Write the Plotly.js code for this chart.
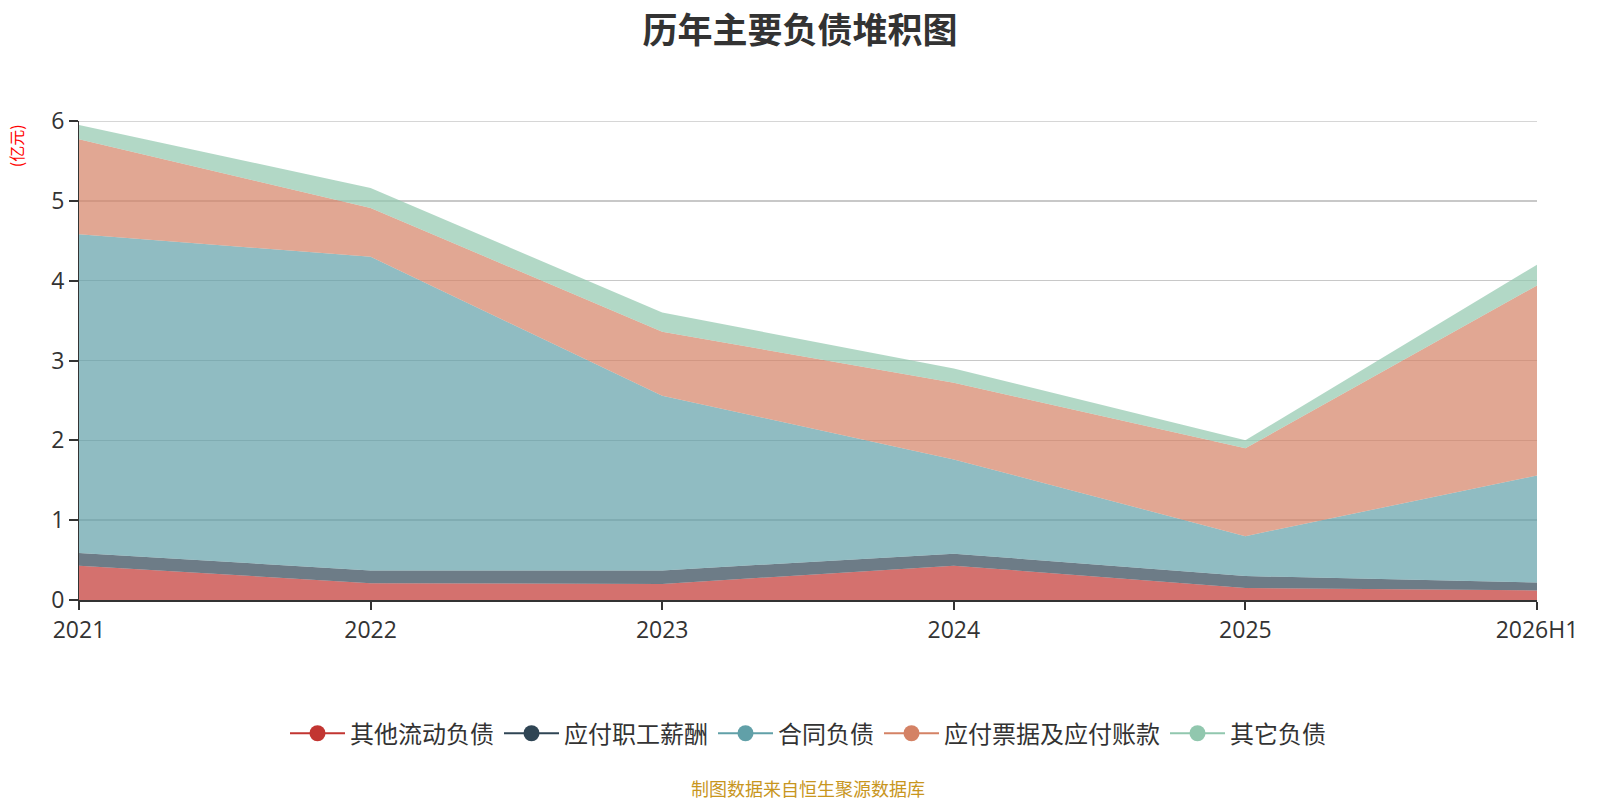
<!DOCTYPE html>
<html>
<head>
<meta charset="utf-8">
<script src="https://cdn.plot.ly/plotly-3.0.1.min.js"></script>
<style>html,body{margin:0;padding:0;background:#fff;}#chart{width:1600px;height:800px;}</style>
</head>
<body>
<div id="chart"></div>
<script>
const categories = ["2021", "2022", "2023", "2024", "2025", "2026H1"];
const seriesNames = ["其他流动负债", "应付职工薪酬", "合同负债", "应付票据及应付账款", "其它负债"];
const otherCurrent = [0.43, 0.21, 0.20, 0.43, 0.15, 0.12];
const payroll = [0.16, 0.16, 0.17, 0.15, 0.15, 0.10];
const contract = [3.99, 3.93, 2.19, 1.18, 0.50, 1.34];
const payables = [1.19, 0.61, 0.80, 0.96, 1.10, 2.38];
const otherLiab = [0.18, 0.25, 0.24, 0.18, 0.10, 0.26];
const yTicks = [0, 1, 2, 3, 4, 5, 6];

const colors = ["#c23531", "#2f4554", "#61a0a8", "#d48265", "#91c7ae"];
const fills = ["rgba(194,53,49,0.7)", "rgba(47,69,84,0.7)", "rgba(97,160,168,0.7)", "rgba(212,130,101,0.7)", "rgba(145,199,174,0.7)"];
const values = [otherCurrent, payroll, contract, payables, otherLiab];

const font = '"Open Sans", "Noto Sans CJK SC", sans-serif';
const cjk = '"Noto Sans CJK SC", "Noto Sans", sans-serif';
const traces = [];
values.forEach((v, i) => {
  traces.push({
    type: "scatter", x: categories, y: v, stackgroup: "one", mode: "lines",
    line: {width: 0, color: colors[i]}, fillcolor: fills[i], showlegend: false,
    hoverinfo: "skip", name: seriesNames[i]
  });
});
seriesNames.forEach((n, i) => {
  traces.push({
    type: "scatter", x: [null], y: [null], mode: "lines+markers", name: n,
    line: {width: 2, color: colors[i]}, marker: {size: 22, color: colors[i], symbol: "circle"},
    showlegend: true, hoverinfo: "skip"
  });
});

const yTop = yTicks[yTicks.length - 1];
const layout = {
  width: 1600, height: 800,
  margin: {l: 79, r: 63, t: 121, b: 200},
  paper_bgcolor: "#fff", plot_bgcolor: "#fff",
  font: {family: font, color: "#333"},
  title: {text: "<b>历年主要负债堆积图</b>", x: 0.5, xanchor: "center", y: 0.962, yanchor: "middle",
          font: {size: 35, color: "#333", family: cjk}},
  xaxis: {type: "category", range: [0, 5], showgrid: false, showline: true, linecolor: "#333", linewidth: 2,
          ticks: "outside", ticklen: 8, tickwidth: 2, tickcolor: "#333",
          tickfont: {size: 23, color: "#333", family: font}, zeroline: false, fixedrange: true},
  yaxis: {range: [0, yTop], tickvals: yTicks, showgrid: true, gridcolor: "#c8c8c8", gridwidth: 1.5,
          showline: true, linecolor: "#333", linewidth: 1, ticks: "outside", ticklen: 9, tickwidth: 2, tickcolor: "#333",
          tickfont: {size: 23, color: "#333", family: font}, zeroline: false, fixedrange: true},
  legend: {orientation: "h", x: 0.5, xanchor: "center", y: -0.279, yanchor: "middle",
           font: {size: 24, color: "#333", family: cjk}, traceorder: "normal", itemsizing: "trace",
           itemwidth: 55},
  shapes: [
    {type: "line", xref: "paper", yref: "y", x0: 0, x1: 1, y0: yTop, y1: yTop, layer: "below",
     line: {color: "#c8c8c8", width: 1.5}}
  ],
  annotations: [
    {text: "(亿元)", xref: "paper", yref: "paper", x: -0.043, y: 0.948, xanchor: "center", yanchor: "middle",
     textangle: -90, showarrow: false, font: {size: 16, color: "#ff0000", family: cjk}},
    {text: "制图数据来自恒生聚源数据库", xref: "paper", yref: "paper", x: 0.5, y: -0.392, xanchor: "center", yanchor: "middle",
     showarrow: false, font: {size: 18, color: "#c8961e", family: cjk}}
  ],
  hovermode: false
};
Plotly.newPlot("chart", traces, layout, {displayModeBar: false, staticPlot: true});
</script>
</body>
</html>
